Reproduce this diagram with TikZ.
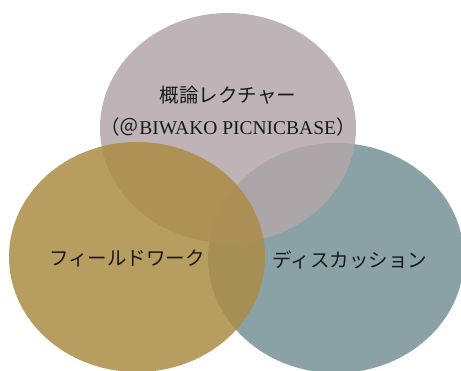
\documentclass[tikz,border=0pt]{standalone}
\usepackage{fontspec}
\setmainfont{Liberation Serif}
\newfontfamily\jp{Noto Sans CJK JP}
\definecolor{topc}{RGB}{179,167,170}
\definecolor{leftc}{RGB}{172,140,69}
\definecolor{rightc}{RGB}{117,145,151}
\definecolor{txt}{RGB}{25,25,25}
\begin{document}
\begin{tikzpicture}[x=1pt,y=-1pt,
  blob/.style={fill opacity=0.85, draw=none},
  lbl/.style={text=txt, font=\fontsize{19.5}{24}\selectfont, inner sep=0pt, align=center}]
\useasboundingbox (0,0) rectangle (461,370);
\clip (0,0) rectangle (461,370);
\fill[blob, rightc] (336,258) ellipse [x radius=128, y radius=115];
\fill[blob, topc] (228,128) ellipse [x radius=128, y radius=115];
\fill[blob, leftc] (137,257) ellipse [x radius=128, y radius=115];
\node[lbl] (lecture) at (228,95) {\jp 概論レクチャー};
\node[lbl] (place) at (228,127) {{\jp （＠}BIWAKO PICNICBASE{\jp ）}};
\node[lbl] (field) at (127,258) {\jp フィールドワーク};
\node[lbl] (disc) at (350,260) {\jp ディスカッション};
\end{tikzpicture}
\end{document}
